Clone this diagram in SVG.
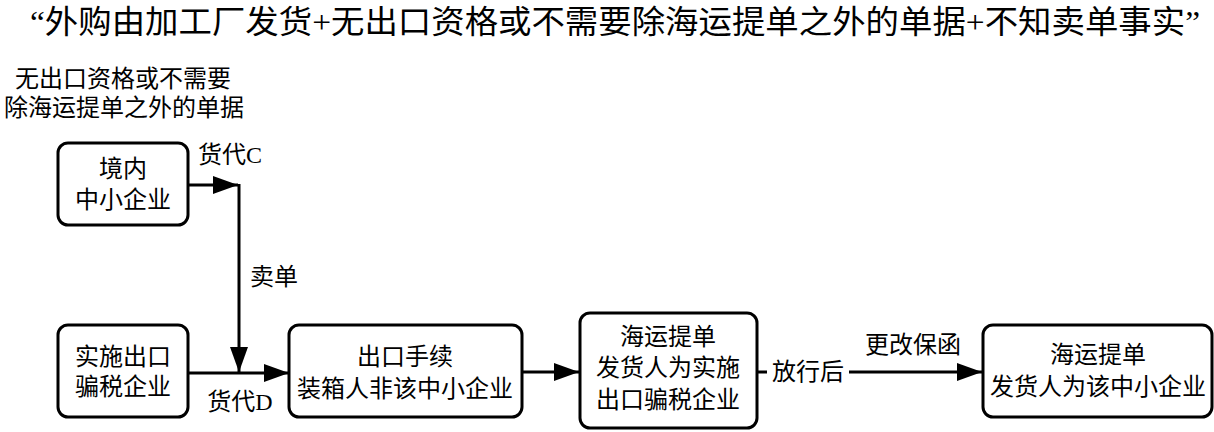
<svg xmlns="http://www.w3.org/2000/svg" width="1214" height="432" viewBox="0 0 1214 432">
<style>
text{font-family:"Liberation Serif","Noto Sans CJK SC",serif;fill:#000;}
.t{font-size:24px;text-anchor:middle;}
.box{fill:#fff;stroke:#000;stroke-width:3;}
.c{fill:none;stroke:#000;stroke-width:3;}
</style>
<defs>
<marker id="ah" markerUnits="userSpaceOnUse" markerWidth="26" markerHeight="20" refX="25" refY="9" orient="auto">
<path d="M0,0 L25,9 L0,18 z" fill="#000"/>
</marker>
</defs>
<rect width="1214" height="432" fill="#fff"/>
<text x="615" y="33" font-size="32" text-anchor="middle" textLength="1170" lengthAdjust="spacingAndGlyphs">“外购由加工厂发货+无出口资格或不需要除海运提单之外的单据+不知卖单事实”</text>
<g id="note">
<text class="t" x="123" y="87">无出口资格或不需要</text>
<text class="t" x="124" y="116">除海运提单之外的单据</text>
</g>
<g id="connectors">
<line class="c" x1="188" y1="185" x2="238" y2="185" marker-end="url(#ah)"/>
<line class="c" x1="239" y1="184" x2="239" y2="372" marker-end="url(#ah)"/>
<line class="c" x1="188" y1="373" x2="289" y2="373" marker-end="url(#ah)"/>
<line class="c" x1="522" y1="372" x2="579" y2="372" marker-end="url(#ah)"/>
<line class="c" x1="757" y1="372" x2="982" y2="372" marker-end="url(#ah)"/>
<rect x="767" y="356" width="82" height="32" fill="#fff"/>
<text class="t" x="808" y="380">放行后</text>
<text class="t" x="230" y="163">货代C</text>
<text class="t" x="240" y="410">货代D</text>
<text class="t" x="274" y="285">卖单</text>
<text class="t" x="913" y="353">更改保函</text>
</g>
<g id="n1">
<rect class="box" x="58" y="143" width="130" height="82" rx="10"/>
<text class="t" x="123" y="177">境内</text>
<text class="t" x="123" y="208">中小企业</text>
</g>
<g id="n2">
<rect class="box" x="58" y="325" width="130" height="92" rx="10"/>
<text class="t" x="123" y="365">实施出口</text>
<text class="t" x="123" y="395">骗税企业</text>
</g>
<g id="n3">
<rect class="box" x="289" y="325" width="233" height="92" rx="10"/>
<text class="t" x="405" y="365">出口手续</text>
<text class="t" x="405" y="397">装箱人非该中小企业</text>
</g>
<g id="n4">
<rect class="box" x="580" y="313" width="177" height="115" rx="10"/>
<text class="t" x="668" y="345">海运提单</text>
<text class="t" x="668" y="376">发货人为实施</text>
<text class="t" x="668" y="408">出口骗税企业</text>
</g>
<g id="n5">
<rect class="box" x="983" y="325" width="229" height="92" rx="10"/>
<text class="t" x="1098" y="363">海运提单</text>
<text class="t" x="1098" y="395">发货人为该中小企业</text>
</g>
</svg>
